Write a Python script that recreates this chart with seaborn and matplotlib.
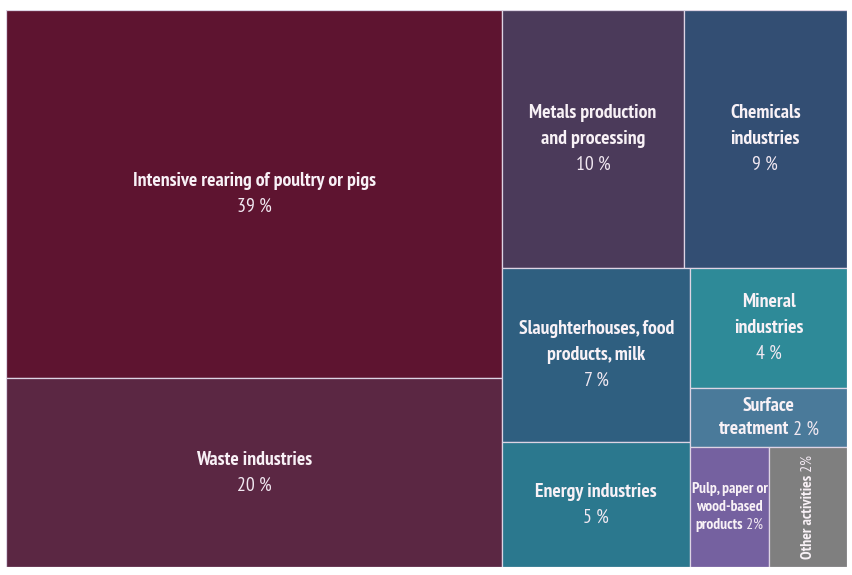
import os
import matplotlib
matplotlib.use("Agg")
import matplotlib.pyplot as plt
from matplotlib import font_manager
from matplotlib.font_manager import FontProperties
from matplotlib.patches import Rectangle
import seaborn as sns

# shares of facilities by sector (%)
sectors = [
    "Intensive rearing of poultry or pigs",
    "Waste industries",
    "Metals production\nand processing",
    "Chemicals\nindustries",
    "Slaughterhouses, food\nproducts, milk",
    "Energy industries",
    "Mineral\nindustries",
    "Surface\ntreatment",
    "Pulp, paper or\nwood-based\nproducts",
    "Other activities",
]
shares = [39, 20, 10, 9, 7, 5, 4, 2, 2, 2]
pct_labels = ["39 %", "20 %", "10 %", "9 %", "7 %", "5 %", "4 %", "2 %", "2%", "2%"]
colors = [
    "#5E1430", "#5B2743", "#4B3A5A", "#334E73", "#2F5F80",
    "#2B788E", "#2E8A98", "#4A7A9A", "#7561A0", "#7F7F7F",
]
# percent on its own line, or inline after the last line of the name
inline_pct = [False, False, False, False, False, False, False, True, True, True]
small_text = [False] * 8 + [True, True]

# nested split tree: ("h", ...) side by side, ("v", ...) stacked
layout = ("h",
          ("v", 0, 1),
          ("v",
           ("h", 2, 3),
           ("h",
            ("v", 4, 5),
            ("v", 6, 7, ("h", 8, 9)))))


def total(node):
    if isinstance(node, int):
        return shares[node]
    return sum(total(c) for c in node[1:])


def place(node, x, y, w, h, out):
    if isinstance(node, int):
        out[node] = (x, y, w, h)
        return
    s = total(node)
    pos = 0.0
    for child in node[1:]:
        f = total(child) / s
        if node[0] == "h":
            place(child, x + pos * w, y, w * f, h, out)
        else:
            place(child, x, y + pos * h, w, h * f, out)
        pos += f


def find_font(cands):
    paths = {os.path.basename(p): p for p in font_manager.findSystemFonts()}
    for bold, reg in cands:
        if bold in paths and reg in paths:
            return paths[bold], paths[reg]
    return None, None


sns.set_theme(style="white")
plt.rcParams["font.family"] = ["DejaVu Sans"]

bold_path, reg_path = find_font([
    ("PT_Sans-Narrow-Web-Bold.ttf", "PT_Sans-Narrow-Web-Regular.ttf"),
    ("IBMPlexSansCondensed-SemiBold.ttf", "IBMPlexSansCondensed-Regular.ttf"),
    ("OpenSans-CondBold.ttf", "OpenSans-CondLight.ttf"),
])


def fprops(bold, size):
    path = bold_path if bold else reg_path
    if path:
        return FontProperties(fname=path, size=size)
    return FontProperties(family="DejaVu Sans", weight="bold" if bold else "normal",
                          size=size * 0.85)


W_PX, H_PX = 841, 557
fig = plt.figure(figsize=(8.52, 5.75), dpi=100)
ax = fig.add_axes([6 / 852, 1 - 567 / 575, W_PX / 852, H_PX / 575])
ax.set_xlim(0, 1)
ax.set_ylim(1, 0)
ax.axis("off")

rects = {}
place(layout, 0, 0, 1, 1, rects)

name_col = "#F8F1F6"
pct_col = "#F1E8F1"
pairs = []  # (bold text, regular text, centre, rotated)
for i, (x, y, w, h) in rects.items():
    ax.add_patch(Rectangle((x, y), w, h, facecolor=colors[i],
                           edgecolor="#DDD4E4", linewidth=0.9))
    cx, cy = x + w / 2, y + h / 2
    fs = 11.2 if small_text[i] else 14.2
    lh = (18 if small_text[i] else 25.8) / H_PX
    if i == 7:
        lh = 23.5 / H_PX
    fb, fr = fprops(True, fs), fprops(False, fs)
    lines = sectors[i].split("\n")
    if i == 9:
        tb = ax.text(cx, cy, lines[0], rotation=90, ha="center", va="bottom",
                     fontproperties=fb, color=name_col)
        tr = ax.text(cx, cy, " " + pct_labels[i], rotation=90, ha="center",
                     va="bottom", fontproperties=fr, color=pct_col)
        pairs.append((tb, tr, cy, True))
        continue
    n = len(lines) + (0 if inline_pct[i] else 1)
    y0 = cy - (n - 1) * lh / 2
    for k, line in enumerate(lines):
        yy = y0 + k * lh
        if inline_pct[i] and k == len(lines) - 1:
            tb = ax.text(cx, yy, line, ha="left", va="center",
                         fontproperties=fb, color=name_col)
            tr = ax.text(cx, yy, " " + pct_labels[i], ha="left", va="center",
                         fontproperties=fr, color=pct_col)
            pairs.append((tb, tr, cx, False))
        else:
            ax.text(cx, yy, line, ha="center", va="center",
                    fontproperties=fb, color=name_col)
    if not inline_pct[i]:
        ax.text(cx, y0 + len(lines) * lh, pct_labels[i], ha="center", va="center",
                fontproperties=fr, color=pct_col)

# centre the mixed bold/regular lines as one piece
fig.canvas.draw()
rend = fig.canvas.get_renderer()
for tb, tr, c, rot in pairs:
    eb, er = tb.get_window_extent(rend), tr.get_window_extent(rend)
    if rot:
        lb, lr = eb.height / H_PX, er.height / H_PX
        start = c + (lb + lr) / 2
        tb.set_y(start)
        tr.set_y(start - lb)
    else:
        lb, lr = eb.width / W_PX, er.width / W_PX
        start = c - (lb + lr) / 2
        tb.set_x(start)
        tr.set_x(start + lb)

fig.savefig("out.png", dpi=100, facecolor="white")
